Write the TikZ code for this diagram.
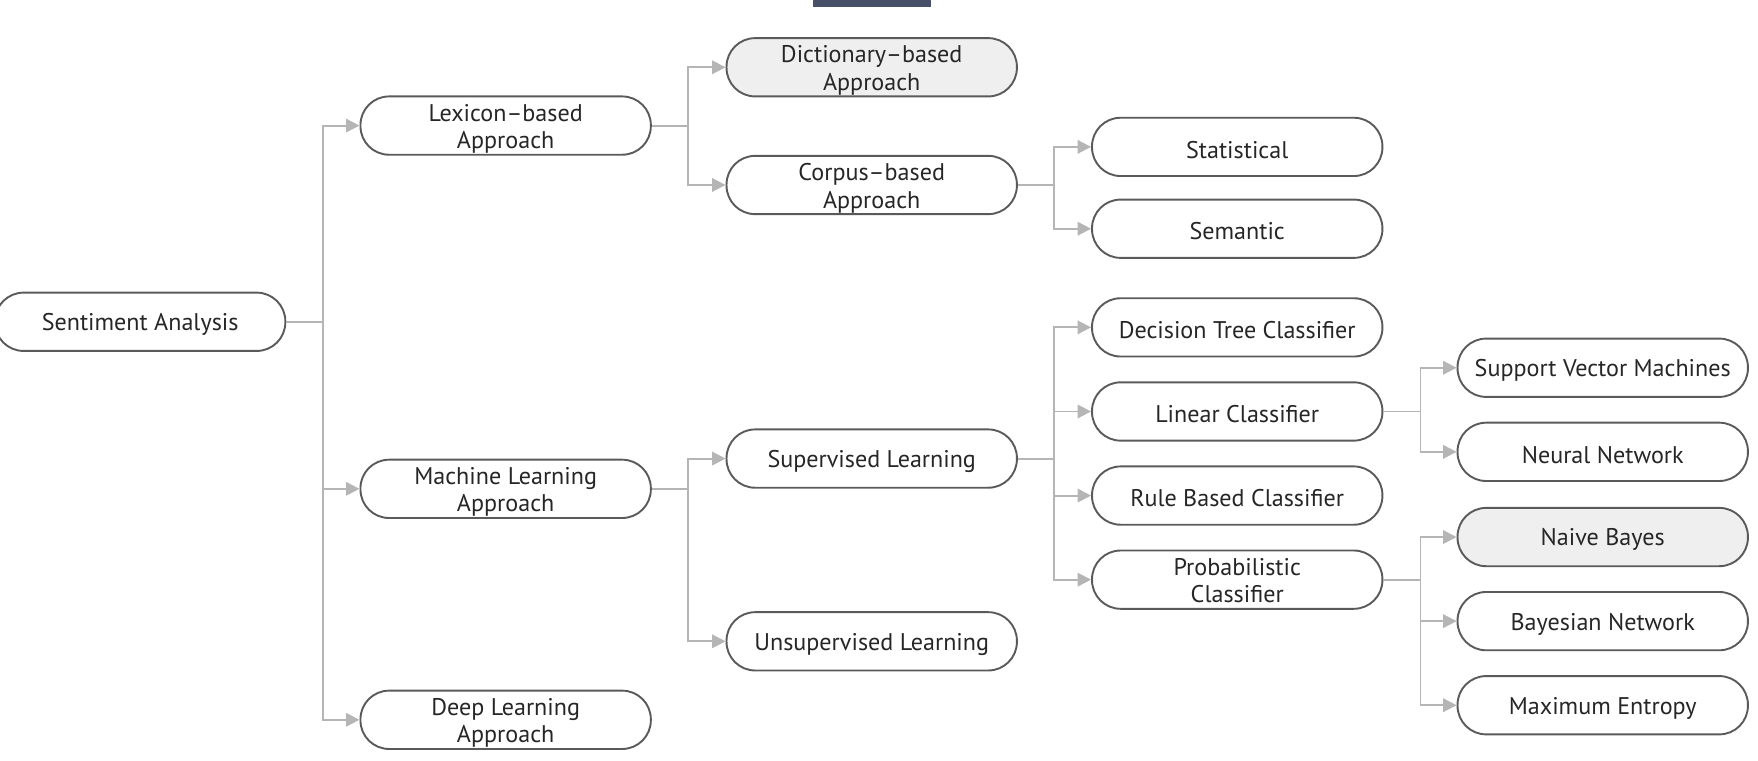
\documentclass[tikz,border=0pt]{standalone}
\usepackage{fontspec}
\setmainfont{PT Sans}
\usetikzlibrary{arrows.meta}
\definecolor{boxline}{HTML}{5A5A5A}
\definecolor{connline}{HTML}{B5B5B5}
\definecolor{boxfill}{HTML}{EFEFEF}
\definecolor{txt}{HTML}{262626}
\definecolor{barcol}{HTML}{465069}
\newcommand{\onel}[1]{\raisebox{-2.5pt}[\height][\depth]{#1}}
\newcommand{\twol}[2]{\raisebox{-3.5pt}[\height][\depth]{\begin{tabular}{@{}c@{}}#1\\#2\end{tabular}}}
\begin{document}
\begin{tikzpicture}[x=1pt,y=-1pt,
  pill/.style={draw=boxline,line width=1.7pt,fill=white,rounded corners=25.5pt,
    minimum width=259pt,minimum height=52pt,inner sep=0pt,align=center,
    text=txt,font=\fontsize{21.5}{24.5}\selectfont},
  hl/.style={fill=boxfill},
  conn/.style={draw=connline,line width=1.7pt},
  arr/.style={conn,-{Triangle[length=12pt,width=12pt]}}]
\useasboundingbox (0,0) rectangle (1568,678);
\fill[barcol] (725,0) rectangle (830,6);
% column 0
\node[pill] (sa) at (125,287) {\onel{Sentiment Analysis}};
% column 1
\node[pill] (lex) at (451,112) {\twol{Lexicon–based}{Approach}};
\node[pill] (ml) at (451,436) {\twol{Machine Learning}{Approach}};
\node[pill] (dl) at (451,642) {\twol{Deep Learning}{Approach}};
% column 2
\node[pill,hl] (dict) at (777.5,60) {\twol{Dictionary–based}{Approach}};
\node[pill] (corp) at (777.5,165) {\twol{Corpus–based}{Approach}};
\node[pill] (sup) at (777.5,409) {\onel{Supervised Learning}};
\node[pill] (unsup) at (777.5,572) {\onel{Unsupervised Learning}};
% column 3
\node[pill] (stat) at (1103.5,131) {\onel{Statistical}};
\node[pill] (sem) at (1103.5,204) {\onel{Semantic}};
\node[pill] (dt) at (1103.5,292) {\onel{Decision Tree Classifier}};
\node[pill] (lin) at (1103.5,367) {\onel{Linear Classifier}};
\node[pill] (rule) at (1103.5,442) {\onel{Rule Based Classifier}};
\node[pill] (prob) at (1103.5,517) {\twol{Probabilistic}{Classifier}};
% column 4
\node[pill] (svm) at (1429.5,328) {\onel{Support Vector Machines}};
\node[pill] (nn) at (1429.5,403) {\onel{Neural Network}};
\node[pill,hl] (nb) at (1429.5,479) {\onel{Naive Bayes}};
\node[pill] (bn) at (1429.5,554) {\onel{Bayesian Network}};
\node[pill] (me) at (1429.5,629) {\onel{Maximum Entropy}};
% trunk coordinates
\coordinate (t0) at (288,287);
\coordinate (t1) at (614,112);
\coordinate (t2) at (614,436);
\coordinate (t3) at (940,165);
\coordinate (t4) at (940,409);
\coordinate (t5) at (1267,367);
\coordinate (t6) at (1267,517);
% connectors
\draw[conn] (sa.east) -- (t0);
\draw[arr] (t0) |- (lex.west);
\draw[arr] (t0) |- (ml.west);
\draw[arr] (t0) |- (dl.west);
\draw[conn] (lex.east) -- (t1);
\draw[arr] (t1) |- (dict.west);
\draw[arr] (t1) |- (corp.west);
\draw[conn] (ml.east) -- (t2);
\draw[arr] (t2) |- (sup.west);
\draw[arr] (t2) |- (unsup.west);
\draw[conn] (corp.east) -- (t3);
\draw[arr] (t3) |- (stat.west);
\draw[arr] (t3) |- (sem.west);
\draw[conn] (sup.east) -- (t4);
\draw[arr] (t4) |- (dt.west);
\draw[arr] (t4) |- (lin.west);
\draw[arr] (t4) |- (rule.west);
\draw[arr] (t4) |- (prob.west);
\draw[conn] (lin.east) -- (t5);
\draw[arr] (t5) |- (svm.west);
\draw[arr] (t5) |- (nn.west);
\draw[conn] (prob.east) -- (t6);
\draw[arr] (t6) |- (nb.west);
\draw[arr] (t6) |- (bn.west);
\draw[arr] (t6) |- (me.west);
\end{tikzpicture}
\end{document}
